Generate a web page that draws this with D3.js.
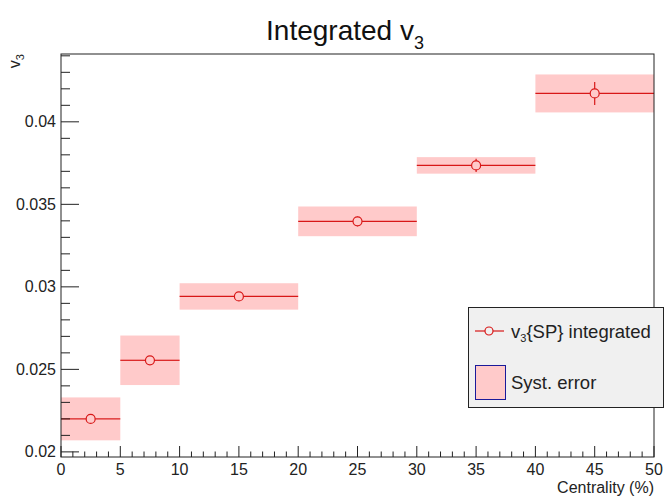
<!DOCTYPE html>
<html lang="en">
<head>
<meta charset="UTF-8">
<title>Integrated v3</title>
<script src="https://cdn.jsdelivr.net/npm/d3@7"></script>
<style>
  body { margin: 0; background: #fff; }
  svg { font-family: "Liberation Sans", Arial, sans-serif; }
</style>
</head>
<body>
<svg id="chart" width="665" height="499"></svg>
<script>
    // centrality bins (%)
    const binLow  = [0, 5, 10, 20, 30, 40];
    const binHigh = [5, 10, 20, 30, 40, 50];
    const v3      = [0.0220, 0.02555, 0.02942, 0.03397, 0.03736, 0.04172];
    const statErr = [0.00015, 0.00025, 0.00025, 0.0003, 0.0004, 0.0007];
    const systErr = [0.0013, 0.0015, 0.0008, 0.0009, 0.0005, 0.00115];
    const xTicks  = [0, 5, 10, 15, 20, 25, 30, 35, 40, 45, 50];
    const yTicks  = [0.02, 0.025, 0.03, 0.035, 0.04];

    const red = "#d81818", pink = "#ffcaca";
    const frame = {left: 61, right: 654, top: 54, bottom: 457};

    const svg = d3.select("#chart");

    const x = d3.scaleLinear().domain([0, 50]).range([frame.left, frame.right]);
    const y = d3.scaleLinear().domain([0.01969, 0.04411]).range([frame.bottom, frame.top]);

    const data = binLow.map((lo, i) => ({
        lo, hi: binHigh[i], mid: (lo + binHigh[i]) / 2,
        v: v3[i], stat: statErr[i], syst: systErr[i]
    }));

    // systematic boxes
    svg.append("g")
        .selectAll("rect")
        .data(data)
        .join("rect")
        .attr("x", d => x(d.lo))
        .attr("width", d => x(d.hi) - x(d.lo))
        .attr("y", d => y(d.v + d.syst))
        .attr("height", d => y(d.v - d.syst) - y(d.v + d.syst))
        .attr("fill", pink);

    // points with horizontal bin-width bars and stat error bars
    const r = 4.5;
    const pts = svg.append("g").attr("stroke", red).attr("fill", "none").attr("stroke-width", 1.2);
    data.forEach(d => {
        const cx = x(d.mid), cy = y(d.v);
        pts.append("line").attr("x1", x(d.lo)).attr("x2", cx - r).attr("y1", cy).attr("y2", cy);
        pts.append("line").attr("x1", cx + r).attr("x2", x(d.hi)).attr("y1", cy).attr("y2", cy);
        if (y(d.v - d.stat) - cy > r) {
            pts.append("line").attr("x1", cx).attr("x2", cx).attr("y1", y(d.v + d.stat)).attr("y2", cy - r);
            pts.append("line").attr("x1", cx).attr("x2", cx).attr("y1", cy + r).attr("y2", y(d.v - d.stat));
        }
        pts.append("circle").attr("cx", cx).attr("cy", cy).attr("r", r);
    });

    // frame
    svg.append("rect")
        .attr("x", frame.left).attr("y", frame.top)
        .attr("width", frame.right - frame.left).attr("height", frame.bottom - frame.top)
        .attr("fill", "none").attr("stroke", "#222").attr("stroke-width", 1);

    // x axis ticks
    const xAxis = svg.append("g").attr("stroke", "#222");
    d3.range(0, 51, 1).forEach(t => {
        const major = t % 5 === 0;
        xAxis.append("line")
            .attr("x1", x(t)).attr("x2", x(t))
            .attr("y1", frame.bottom).attr("y2", frame.bottom - (major ? 11 : 5.5));
    });
    svg.append("g")
        .selectAll("text")
        .data(xTicks)
        .join("text")
        .attr("x", d => x(d))
        .attr("y", 475)
        .attr("text-anchor", "middle")
        .attr("font-size", 16)
        .attr("fill", "#222")
        .text(d => d);

    // y axis ticks
    const yAxis = svg.append("g").attr("stroke", "#222");
    d3.range(20, 45, 1).forEach(t => {
        const v = t / 1000;
        if (v > 0.0441) return;
        const major = t % 5 === 0;
        yAxis.append("line")
            .attr("x1", frame.left).attr("x2", frame.left + (major ? 18 : 9))
            .attr("y1", y(v)).attr("y2", y(v));
    });
    svg.append("g")
        .selectAll("text")
        .data(yTicks)
        .join("text")
        .attr("x", 56)
        .attr("y", d => y(d) + 5.5)
        .attr("text-anchor", "end")
        .attr("font-size", 16)
        .attr("fill", "#222")
        .text(d => d);

    // axis titles
    svg.append("text")
        .attr("x", frame.right).attr("y", 493)
        .attr("text-anchor", "end").attr("font-size", 16).attr("fill", "#222")
        .text("Centrality (%)");

    const yl = svg.append("text")
        .attr("transform", `translate(20,${frame.top}) rotate(-90)`)
        .attr("text-anchor", "end").attr("font-size", 16).attr("fill", "#222");
    yl.append("tspan").text("v");
    yl.append("tspan").attr("font-size", 11).attr("dy", 4).text("3");

    // title
    const title = svg.append("text")
        .attr("x", 345).attr("y", 40)
        .attr("text-anchor", "middle").attr("font-size", 28).attr("fill", "#111");
    title.append("tspan").text("Integrated v");
    title.append("tspan").attr("font-size", 18).attr("dy", 9).text("3");

    // legend
    const lg = svg.append("g");
    lg.append("rect")
        .attr("x", 468.5).attr("y", 307.5).attr("width", 195).attr("height", 100)
        .attr("fill", "#f0f0f0").attr("stroke", "#222");
    lg.append("line").attr("x1", 475).attr("x2", 485).attr("y1", 331).attr("y2", 331)
        .attr("stroke", red).attr("stroke-width", 1.2);
    lg.append("line").attr("x1", 493).attr("x2", 504).attr("y1", 331).attr("y2", 331)
        .attr("stroke", red).attr("stroke-width", 1.2);
    lg.append("circle").attr("cx", 489).attr("cy", 331).attr("r", 4)
        .attr("fill", "none").attr("stroke", red).attr("stroke-width", 1.2);
    const lt = lg.append("text").attr("x", 511).attr("y", 338).attr("font-size", 18.5).attr("fill", "#222");
    lt.append("tspan").text("v");
    lt.append("tspan").attr("font-size", 11).attr("dy", 4).text("3");
    lt.append("tspan").attr("dy", -4).text("{SP} integrated");

    lg.append("rect")
        .attr("x", 475.5).attr("y", 365.5).attr("width", 30).attr("height", 34)
        .attr("fill", pink).attr("stroke", "#1a1a9a").attr("stroke-width", 1);
    lg.append("text").attr("x", 511).attr("y", 389).attr("font-size", 18.5).attr("fill", "#222")
        .text("Syst. error");
</script>
</body>
</html>
